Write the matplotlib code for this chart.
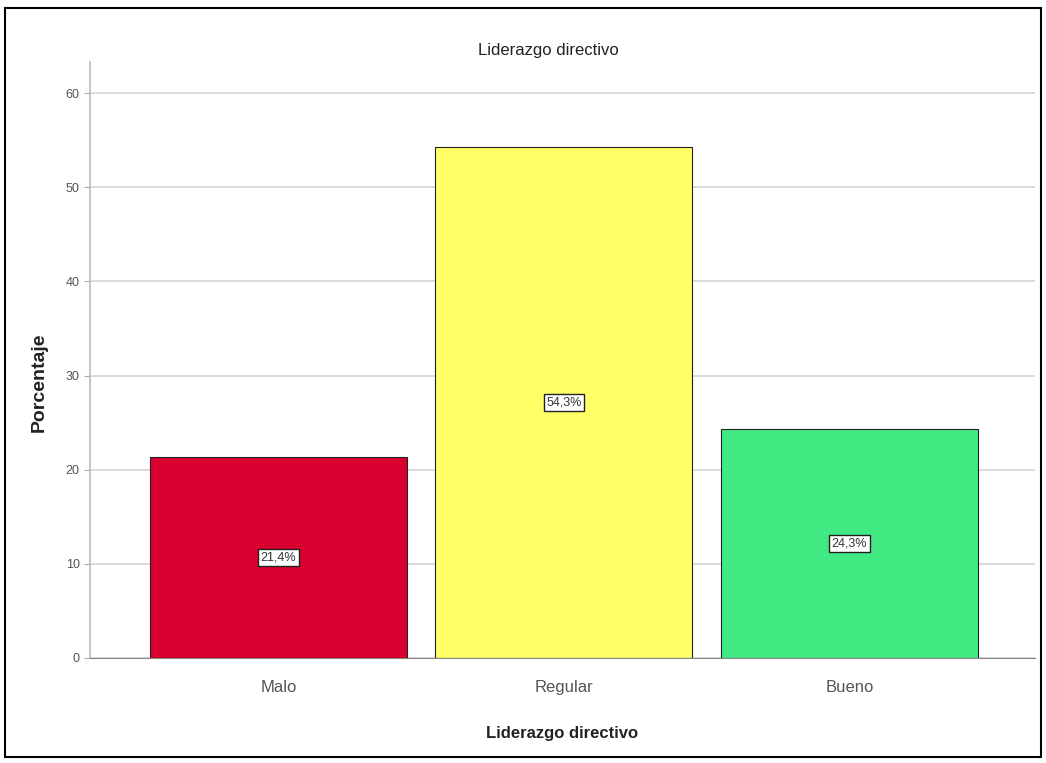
import numpy as np
import matplotlib.pyplot as plt
from matplotlib.patches import Rectangle

plt.rcParams['font.family'] = ['Liberation Sans', 'DejaVu Sans']

categorias = ['Malo', 'Regular', 'Bueno']
porcentajes = [21.4, 54.3, 24.3]
etiquetas = ['21,4%', '54,3%', '24,3%']
colores = ['#D8002E', '#FFFF66', '#42E882']

fig = plt.figure(figsize=(10.46, 7.63), dpi=100)
ax = fig.add_axes([90/1046, 1 - 658/763, (1035-90)/1046, (658-62)/763])

x = np.arange(len(categorias))
ax.set_axisbelow(True)
ax.yaxis.grid(True, color='#d4d4d4', linewidth=1.2)
ax.bar(x, porcentajes, width=0.9, color=colores, edgecolor='#222222', linewidth=0.8)

for xi, v, t in zip(x, porcentajes, etiquetas):
    ax.text(xi, v / 2, t, ha='center', va='center', fontsize=9, color='#333333',
            bbox=dict(boxstyle='square,pad=0.2', fc='white', ec='#222222', lw=1.0))

ax.set_xlim(-0.66, 2.65)
ax.set_ylim(0, 63.3)
ax.set_yticks([0, 10, 20, 30, 40, 50, 60])
ax.set_xticks(x)
ax.set_xticklabels(categorias, fontsize=12, color='#555555')
ax.tick_params(axis='y', labelsize=9, colors='#555555', length=4, color='#aaaaaa')
ax.tick_params(axis='x', length=0, pad=16)

for s in ['top', 'right']:
    ax.spines[s].set_visible(False)
ax.spines['left'].set_color('#bbbbbb')
ax.spines['bottom'].set_color('#888888')
ax.spines['left'].set_linewidth(1.2)

fig.text(548/1046, 1 - 50/763, 'Liderazgo directivo', ha='center', va='center',
         fontsize=12, color='#222222')
ax.set_xlabel('Liderazgo directivo', fontsize=12, fontweight='bold', labelpad=22, color='#222222')
ax.set_ylabel('Porcentaje', fontsize=14, fontweight='bold', color='#222222')
ax.yaxis.set_label_coords(-0.045, 0.463)

# marco negro alrededor de la figura
fig.patches.append(Rectangle((5/1046, 6/763), 1036/1046, 749/763, transform=fig.transFigure,
                             fill=False, ec='black', lw=1.5))

fig.savefig('out.png', dpi=100)
